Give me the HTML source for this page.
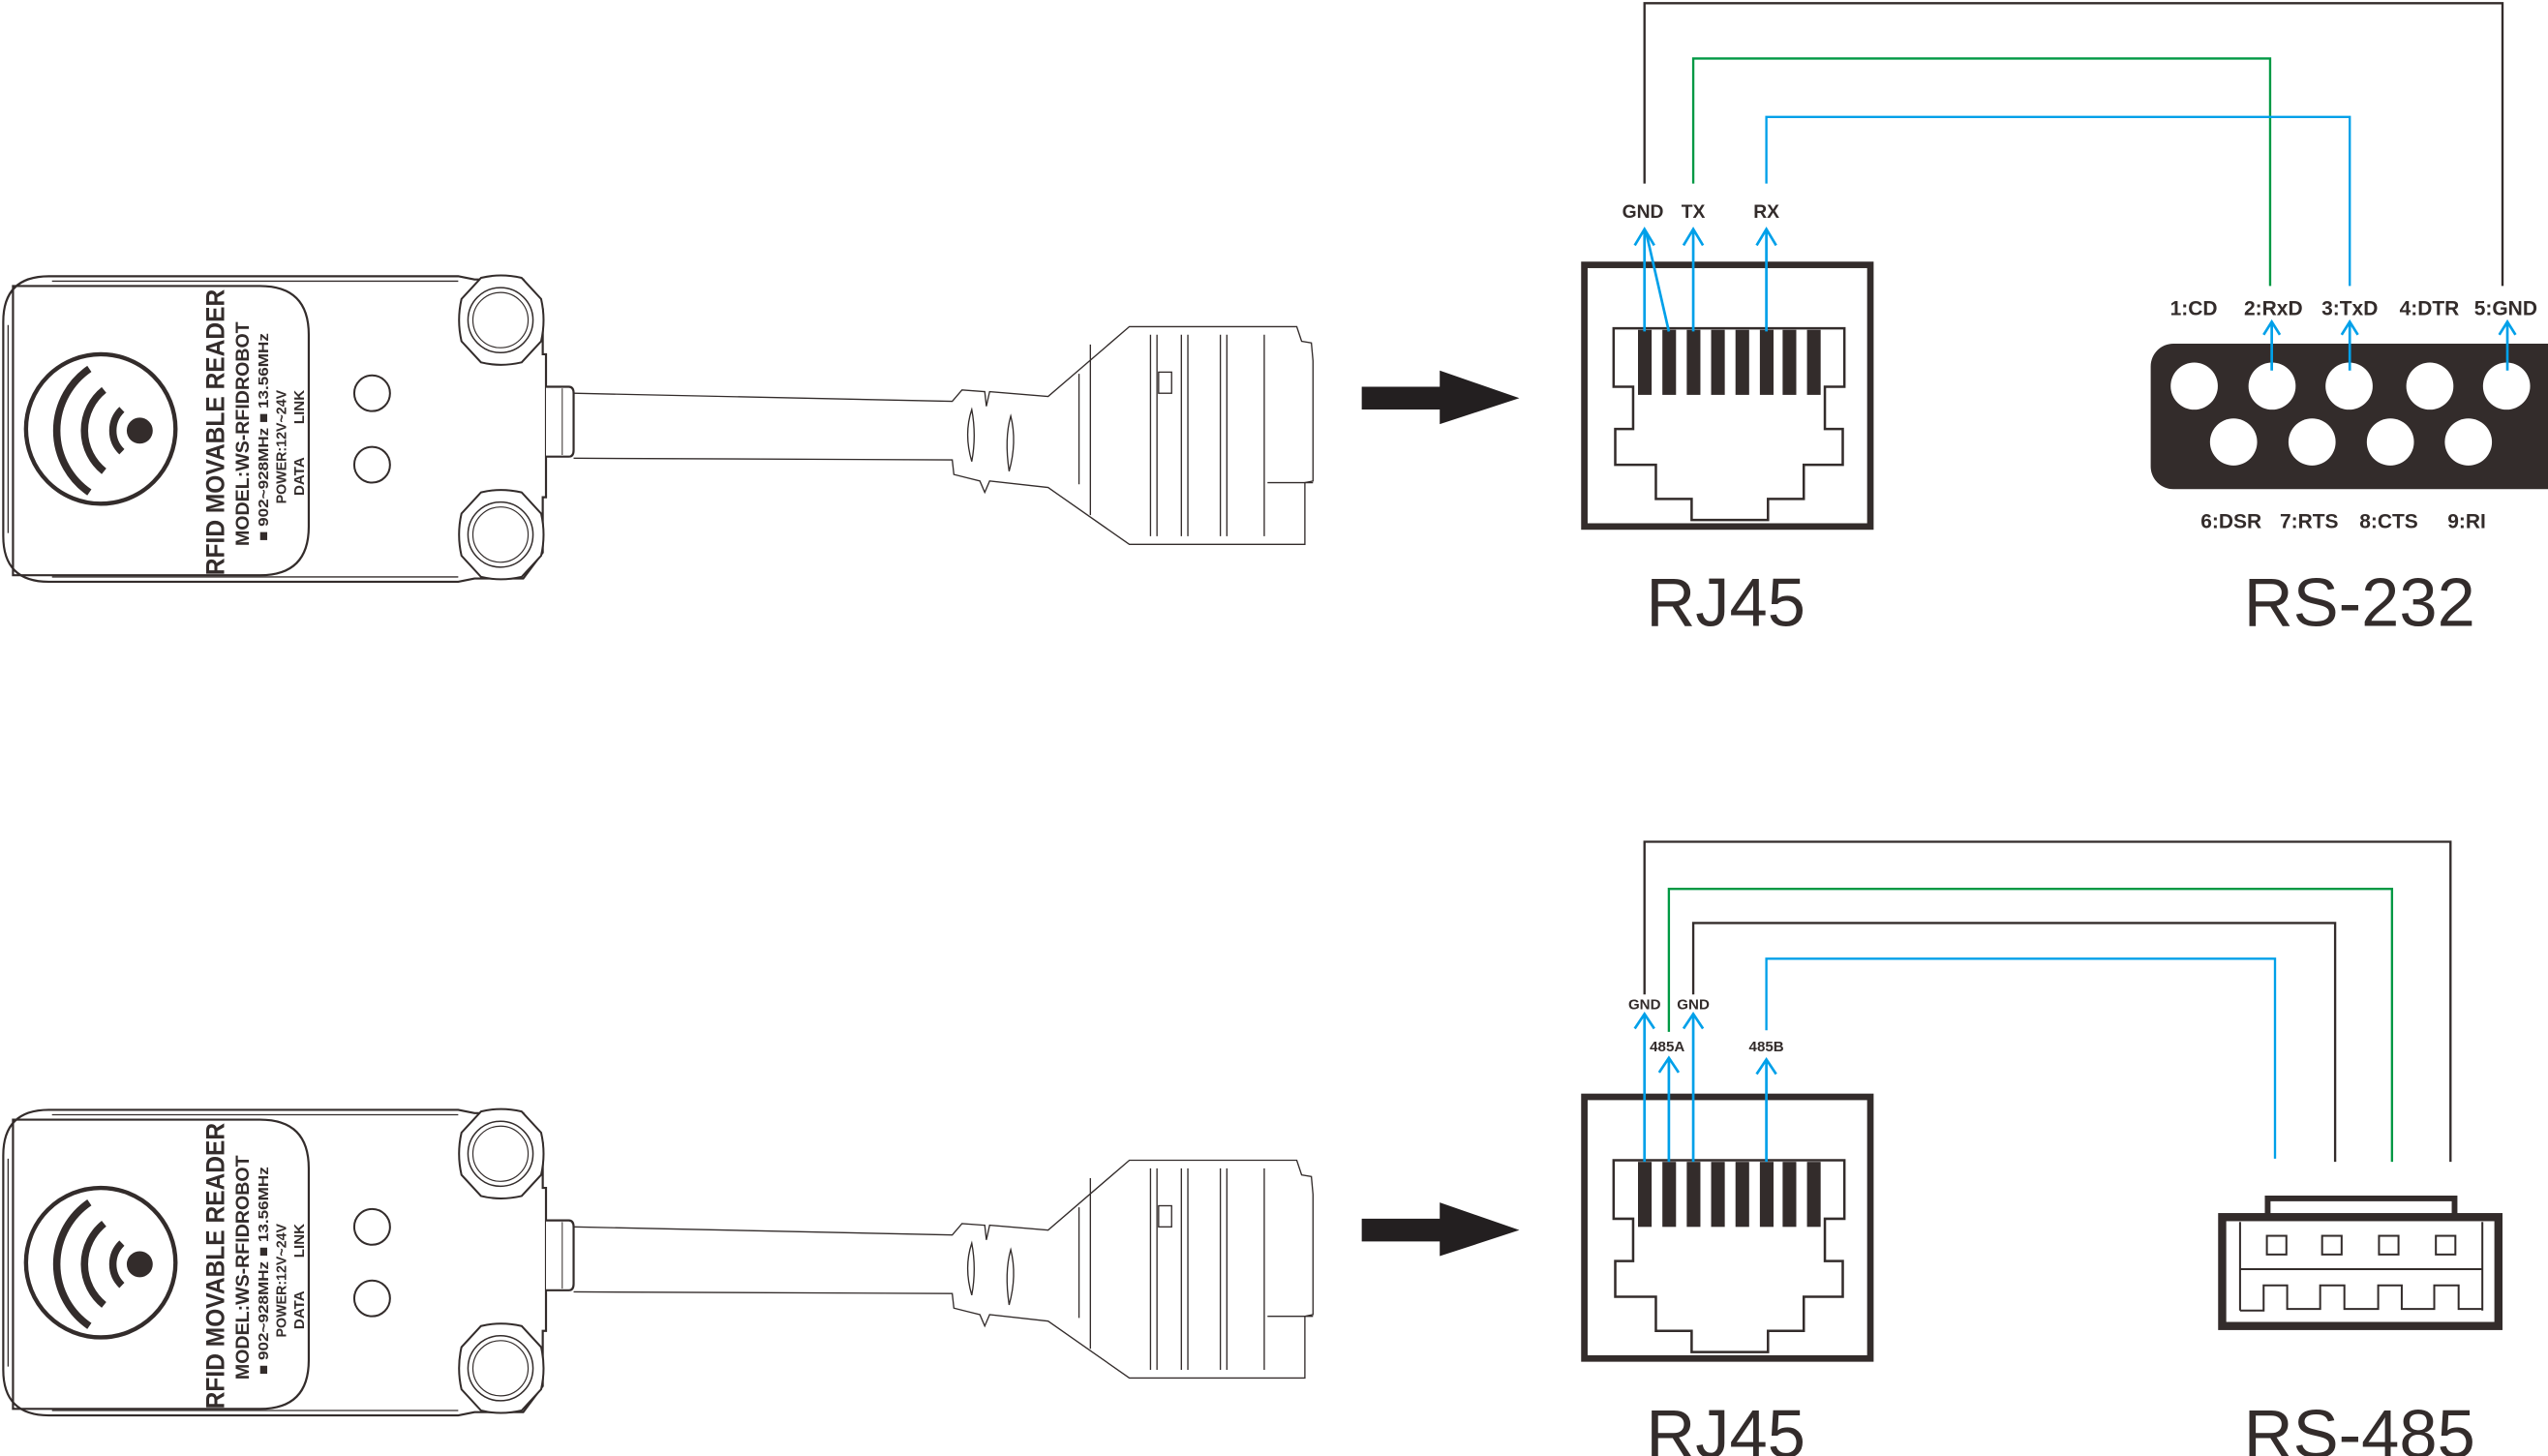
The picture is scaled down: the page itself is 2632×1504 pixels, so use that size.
<!DOCTYPE html>
<html><head><meta charset="utf-8"><style>
html,body{margin:0;padding:0;background:#fff;}
svg{display:block;}
text{font-family:"Liberation Sans",Arial,sans-serif;fill:#332c2b;}
</style></head><body>
<svg width="2632" height="1504" viewBox="0 0 1568 896" xmlns="http://www.w3.org/2000/svg">
<defs>
<g id="reader">
  <path d="M30,170 H282 L292,172 H322 L334,190 V218 H336 V306 H334 V340 L322,356 H292 L282,358 H30 Q2,358 2,330 V198 Q2,170 30,170 Z" fill="#fff" stroke="#332c2b" stroke-width="1.3"/>
  <path d="M32,173 H282 M32,355 H282 M5,200 V328" fill="none" stroke="#332c2b" stroke-width="0.8"/>
  <path d="M8,176 H160 Q190,176 190,206 V324 Q190,354 160,354 H8 Z" fill="none" stroke="#332c2b" stroke-width="1.3"/>
  <circle cx="62" cy="264" r="46" fill="none" stroke="#332c2b" stroke-width="2.6"/>
  <circle cx="86" cy="265" r="8" fill="#332c2b"/>
  <g fill="none" stroke="#332c2b" stroke-width="4.5">
    <path d="M75,252 A18,18 0 0 0 75,278"/>
    <path d="M64,240 A32,32 0 0 0 64,290"/>
    <path d="M55,227 A46,46 0 0 0 55,303"/>
  </g>
  <text transform="translate(138,354) rotate(-90)" font-size="16" font-weight="bold" textLength="176" lengthAdjust="spacingAndGlyphs">RFID MOVABLE READER</text>
  <text transform="translate(153,336) rotate(-90)" font-size="11.5" font-weight="bold" textLength="138" lengthAdjust="spacingAndGlyphs">MODEL:WS-RFIDROBOT</text>
  <text transform="translate(165,333) rotate(-90)" font-size="9" font-weight="bold" textLength="128" lengthAdjust="spacingAndGlyphs">■ 902~928MHz    ■ 13.56MHz</text>
  <text transform="translate(176,310) rotate(-90)" font-size="9" font-weight="bold" textLength="70" lengthAdjust="spacingAndGlyphs">POWER:12V~24V</text>
  <text transform="translate(187,305) rotate(-90)" font-size="9" font-weight="bold">DATA</text>
  <text transform="translate(187,261) rotate(-90)" font-size="9" font-weight="bold">LINK</text>
  <circle cx="229" cy="242" r="11" fill="none" stroke="#332c2b" stroke-width="1.2"/>
  <circle cx="229" cy="286" r="11" fill="none" stroke="#332c2b" stroke-width="1.2"/>
  <g fill="#fff" stroke="#332c2b" stroke-width="1.2">
    <path d="M296,171 Q308,168 321,171 L333,184 Q336,197 333,210 L321,223 Q308,226 296,223 L284,210 Q281,197 284,184 Z"/>
    <path d="M296,303 Q308,300 321,303 L333,316 Q336,329 333,342 L321,355 Q308,358 296,355 L284,342 Q281,329 284,316 Z"/>
  </g>
  <circle cx="308" cy="197" r="20" fill="none" stroke="#332c2b" stroke-width="0.9"/>
  <circle cx="308" cy="197" r="17" fill="none" stroke="#332c2b" stroke-width="0.7"/>
  <circle cx="308" cy="329" r="20" fill="none" stroke="#332c2b" stroke-width="0.9"/>
  <circle cx="308" cy="329" r="17" fill="none" stroke="#332c2b" stroke-width="0.7"/>
  <path d="M336,238 H350 Q353,238 353,242 V277 Q353,281 350,281 H336" fill="#fff" stroke="#332c2b" stroke-width="1.3"/>
  <path d="M346,239 V280" stroke="#332c2b" stroke-width="0.6"/>
  <g fill="none" stroke="#332c2b" stroke-width="0.8">
    <path d="M353,242 L586,247 L592,240 L606,241 L607,250 L609,241 L645,244 L695,201 H798 L801,210 L807,211 L808,222 V296 L803,297 V335 H695 L645,300 L609,296 L606,303 L603,296 L595,294 L587,292 L586,283 L353,282"/>
    <path d="M598,252 Q593,267 598,284 Q601,268 598,252 Z"/>
    <path d="M622,256 Q618,270 621,290 Q626,272 622,256 Z"/>
    <path d="M664,230 V298 M671,212 V317"/>
    <path d="M708,206 V330 M712,206 V330 M727,206 V330 M731,206 V330 M751,206 V330 M755,206 V330 M778,206 V330"/>
    <rect x="713" y="229" width="8" height="13"/>
    <path d="M780,297 H808"/>
  </g>
</g>
<g id="jack">
  <rect x="975" y="163" width="176" height="161" fill="none" stroke="#332c2b" stroke-width="4"/>
  <path d="M993,202 H1135 V238 H1123 V264 H1134 V286 H1110 V307 H1088 V320 H1041 V307 H1019 V286 H994 V264 H1005 V238 H993 Z" fill="none" stroke="#332c2b" stroke-width="1.5"/>
  <g fill="#332c2b">
    <rect x="1008" y="203" width="8.4" height="40"/><rect x="1023" y="203" width="8.4" height="40"/>
    <rect x="1038" y="203" width="8.4" height="40"/><rect x="1053" y="203" width="8.4" height="40"/>
    <rect x="1068" y="203" width="8.4" height="40"/><rect x="1083" y="203" width="8.4" height="40"/>
    <rect x="1097" y="203" width="8.4" height="40"/><rect x="1112" y="203" width="8.4" height="40"/>
  </g>
</g>
<path id="bigarrow" d="M838,238 H886 V228 L935,245 L886,261 V252 H838 Z" fill="#231f20"/>
</defs>

<use href="#reader"/>
<use href="#bigarrow"/>
<use href="#jack"/>
<g fill="none" stroke-width="1.4">
  <path d="M1012,113 V2 H1540 V176" stroke="#332c2b"/>
  <path d="M1042,113 V36 H1397 V176" stroke="#009944"/>
  <path d="M1087,113 V72 H1446 V176" stroke="#00a0e9"/>
</g>
<g fill="none" stroke="#00a0e9" stroke-width="1.6">
  <path d="M1012,204 V141 M1006,151 L1012,141 L1018,151"/>
  <path d="M1027,204 L1013,143"/>
  <path d="M1042,204 V141 M1036,151 L1042,141 L1048,151"/>
  <path d="M1087,204 V141 M1081,151 L1087,141 L1093,151"/>
</g>
<g font-size="11.5" font-weight="bold" text-anchor="middle">
  <text x="1011" y="134">GND</text><text x="1042" y="134">TX</text><text x="1087" y="134">RX</text>
</g>
<rect x="1323.5" y="211.5" width="260" height="89.5" rx="14" fill="#332c2b"/>
<g fill="#fff">
  <circle cx="1350.3" cy="237.6" r="14.5"/><circle cx="1398.2" cy="237.6" r="14.5"/><circle cx="1445.6" cy="237.6" r="14.5"/><circle cx="1495.3" cy="237.6" r="14.5"/><circle cx="1542.5" cy="237.6" r="14.5"/>
  <circle cx="1374.5" cy="272" r="14.5"/><circle cx="1422.8" cy="272" r="14.5"/><circle cx="1471" cy="272" r="14.5"/><circle cx="1519" cy="272" r="14.5"/>
</g>
<g fill="none" stroke="#00a0e9" stroke-width="1.6">
  <path d="M1398,228 V198 M1393,206 L1398,198 L1403,206"/>
  <path d="M1446,228 V198 M1441,206 L1446,198 L1451,206"/>
  <path d="M1543,228 V198 M1538,206 L1543,198 L1548,206"/>
</g>
<g font-size="12.5" font-weight="bold" text-anchor="middle">
  <text x="1350" y="194">1:CD</text><text x="1399" y="194">2:RxD</text><text x="1446" y="194">3:TxD</text><text x="1495" y="194">4:DTR</text><text x="1542" y="194">5:GND</text>
  <text x="1373" y="325">6:DSR</text><text x="1421" y="325">7:RTS</text><text x="1470" y="325">8:CTS</text><text x="1518" y="325">9:RI</text>
</g>
<g font-size="42" text-anchor="middle">
  <text x="1062" y="385">RJ45</text><text x="1452" y="385">RS-232</text>
</g>

<g transform="translate(0,513)"><use href="#reader"/></g>
<g transform="translate(0,512)"><use href="#bigarrow"/><use href="#jack"/></g>
<g fill="none" stroke-width="1.4">
  <path d="M1012,612 V518 H1508 V715" stroke="#332c2b"/>
  <path d="M1027,635 V547 H1472 V715" stroke="#009944"/>
  <path d="M1042,612 V568 H1437 V715" stroke="#332c2b"/>
  <path d="M1087,634 V590 H1400 V713" stroke="#00a0e9"/>
</g>
<g fill="none" stroke="#00a0e9" stroke-width="1.6">
  <path d="M1012,715 V624 M1006,633 L1012,624 L1018,633"/>
  <path d="M1027,715 V651 M1021,660 L1027,651 L1033,660"/>
  <path d="M1042,715 V624 M1036,633 L1042,624 L1048,633"/>
  <path d="M1087,715 V652 M1081,661 L1087,652 L1093,661"/>
</g>
<g font-size="9" font-weight="bold" text-anchor="middle">
  <text x="1012" y="621">GND</text><text x="1042" y="621">GND</text>
  <text x="1026" y="647">485A</text><text x="1087" y="647">485B</text>
</g>
<g fill="none" stroke="#332c2b">
  <rect x="1395.5" y="737.5" width="115" height="12" stroke-width="3.5"/>
  <rect x="1367.5" y="749" width="170" height="67" stroke-width="5" fill="#fff"/>
  <path d="M1378.5,752 V806.5 M1527.6,752 V806.5 M1378.5,781 H1527.6" stroke-width="1.2"/>
  <path d="M1378.5,806.5 H1393 V791 H1407.5 V805.5 H1427.8 V791 H1442.7 V805.5 H1463.5 V791 H1478 V805.5 H1498 V791 H1513 V805.5 H1527.6" stroke-width="1.2"/>
  <rect x="1395" y="760.5" width="12" height="11.5" stroke-width="1.2"/>
  <rect x="1429" y="760.5" width="12" height="11.5" stroke-width="1.2"/>
  <rect x="1464" y="760.5" width="12" height="11.5" stroke-width="1.2"/>
  <rect x="1499" y="760.5" width="12" height="11.5" stroke-width="1.2"/>
</g>
<g font-size="42" text-anchor="middle">
  <text x="1062" y="897">RJ45</text><text x="1452" y="897">RS-485</text>
</g>
</svg>
</body></html>
